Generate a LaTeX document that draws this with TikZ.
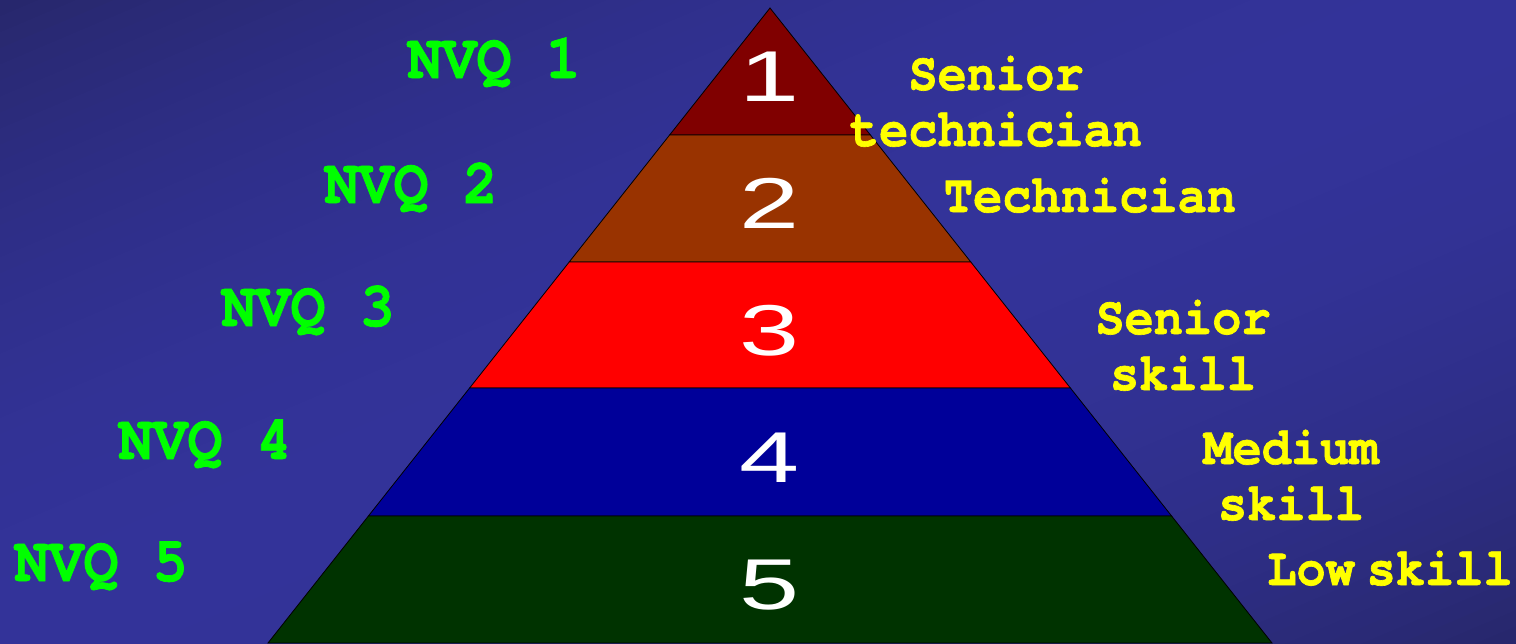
\documentclass[tikz,border=0pt]{standalone}
\usepackage{fontspec}
\newfontfamily\courfont{texgyrecursor}[Extension=.otf,UprightFont=*-bold,BoldFont=*-bold,FakeStretch=0.91,FakeBold=1.2]
\newfontfamily\arialfont{Liberation Sans}
\definecolor{bgmid}{HTML}{333399}
\definecolor{bgdark}{HTML}{27276C}
\definecolor{lay1}{HTML}{800000}
\definecolor{lay2}{HTML}{993300}
\definecolor{lay3}{HTML}{FF0000}
\definecolor{lay4}{HTML}{000099}
\definecolor{lay5}{HTML}{003300}
\definecolor{nvqgreen}{HTML}{00FF00}
\definecolor{lblyellow}{HTML}{FFFF00}
\tikzset{
  layer/.style={draw=black, line width=0.8pt},
  numlbl/.style={text=white, anchor=base, inner sep=0pt, font=\arialfont\fontsize{72}{72}\selectfont},
  nvqlbl/.style={text=nvqgreen, anchor=base, inner sep=0pt, font=\courfont\fontsize{63.5}{63.5}\selectfont},
  joblbl/.style={text=lblyellow, anchor=base, inner sep=0pt, align=center, font=\courfont\fontsize{53.5}{56}\selectfont},
}
\newcommand{\widedigit}[1]{\scalebox{1.5}[1]{#1}}
\begin{document}
\begin{tikzpicture}[x=1pt,y=-1pt]
\useasboundingbox (0,0) rectangle (1516,643);
% background: diagonal gradient, dark at top-left and bottom-right corners
\begin{scope}
\clip (0,0) rectangle (1516,643);
\fill[bgmid] (0,0) rectangle (1516,643);
\foreach \i in {0,...,79}{
  \pgfmathsetmacro{\sa}{\i*0.025}
  \pgfmathsetmacro{\sb}{\i*0.025+0.029}
  \pgfmathsetmacro{\sm}{\i*0.025+0.0125}
  \pgfmathsetmacro{\fr}{100*(1-\sm)*(1-\sm)}
  \fill[bgdark!\fr!bgmid] ({\sa*1516},0) -- (0,{\sa*643}) -- (0,{\sb*643}) -- ({\sb*1516},0) -- cycle;
}
\end{scope}
% pyramid layers
\fill[lay1,layer] (770,8) -- (870.4,135) -- (669.6,135) -- cycle;
\fill[lay2,layer] (669.6,135) -- (870.4,135) -- (970.8,262) -- (569.2,262) -- cycle;
\fill[lay3,layer] (569.2,262) -- (970.8,262) -- (1070.4,388) -- (469.6,388) -- cycle;
\fill[lay4,layer] (469.6,388) -- (1070.4,388) -- (1171.6,516) -- (368.4,516) -- cycle;
\fill[lay5,layer] (368.4,516) -- (1171.6,516) -- (1272,643) -- (268,643) -- cycle;
% numbers
\node[numlbl] (n1) at (770,101) {\widedigit{1}};
\node[numlbl] (n2) at (770,228) {\widedigit{2}};
\node[numlbl] (n3) at (770,355) {\widedigit{3}};
\node[numlbl] (n4) at (770,482) {\widedigit{4}};
\node[numlbl] (n5) at (770,609) {\widedigit{5}};
% NVQ labels
\node[nvqlbl] (q1) at (494,78) {NVQ 1};
\node[nvqlbl] (q2) at (411,203) {NVQ 2};
\node[nvqlbl] (q3) at (308,326) {NVQ 3};
\node[nvqlbl] (q4) at (205,459) {NVQ 4};
\node[nvqlbl] (q5) at (101,581) {NVQ 5};
% job labels
\node[joblbl] (j1) at (996,146) {Senior\\technician};
\node[joblbl] (j2) at (1090,212) {Technician};
\node[joblbl] (j3) at (1183,390) {Senior\\skill};
\node[joblbl] (j4) at (1291,520) {Medium\\skill};
\node[joblbl] (j5) at (1390,585) {Low\hspace{0.22em}skill};
\end{tikzpicture}
\end{document}
